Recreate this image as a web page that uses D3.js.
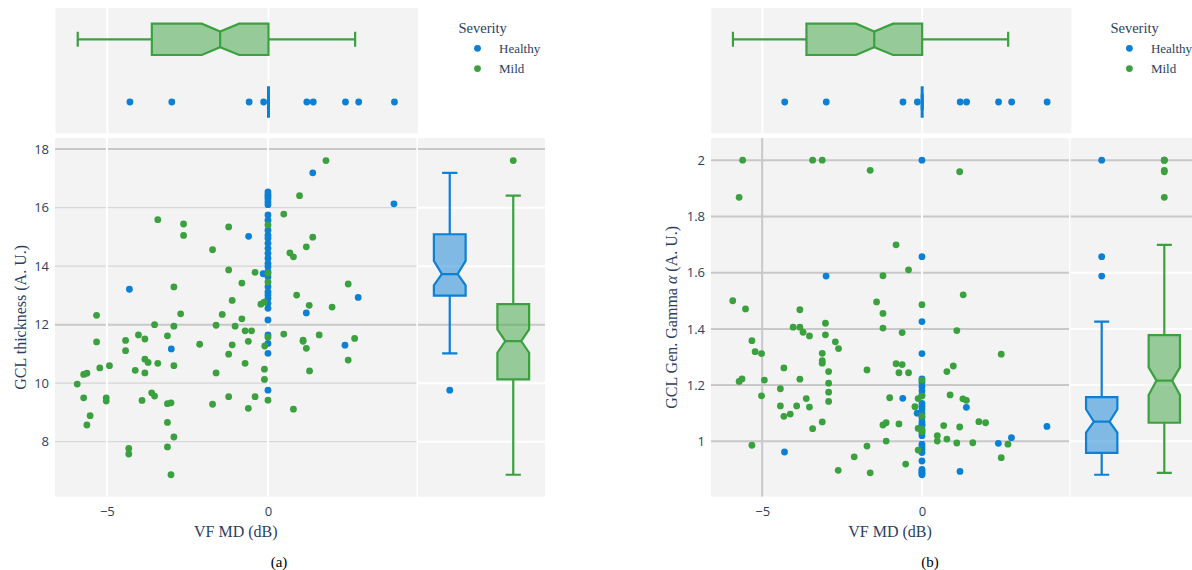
<!DOCTYPE html>
<html>
<head>
<meta charset="utf-8">
<script src="https://cdn.jsdelivr.net/npm/d3@7"></script>
<style>
  html, body { margin: 0; padding: 0; background: #ffffff; }
  svg { display: block; }
</style>
</head>
<body>
<svg id="fig" width="1192" height="570"></svg>
<script>
// ---------------------------------------------------------------
// Data
// ---------------------------------------------------------------
const severities = ["Healthy", "Mild"];

// VF mean deviation (dB) of the healthy group, shared by both panels
const healthyMD = [-4.3, -3.0, -0.6, -0.15, 1.19, 1.39, 2.39, 2.8, 3.91,
  0, 0, 0, 0, 0, 0, 0, 0, 0, 0, 0, 0, 0, 0, 0,
  0, 0, 0, 0, 0, 0, 0, 0, 0, 0, 0, 0, 0, 0, 0];

// GCL thickness of the healthy group (same order as healthyMD)
const healthyGCL = [13.21, 11.17, 15.02, 13.74, 12.40, 17.19, 11.30, 12.93, 16.13,
  16.54, 16.45, 16.38, 16.30, 16.20, 16.10, 15.75, 15.57, 15.23, 15.06,
  14.95, 14.78, 14.61, 14.44, 14.27, 14.09, 13.98, 13.81, 13.64, 13.30,
  13.12, 13.01, 12.90, 12.73, 12.56, 12.16, 11.65, 11.36, 11.02, 9.76];

// GCL generalised-gamma alpha of the healthy group (same order as healthyMD)
const healthyGamma = [0.962, 1.588, 1.153, 1.10, 0.893, 1.121, 0.993, 1.013, 1.053,
  2.0, 1.657, 1.426, 1.312, 1.222, 1.21, 1.195, 1.18, 1.165, 1.135,
  1.125, 1.115, 1.10, 1.085, 1.07, 1.06, 1.055, 1.04, 1.03, 1.02,
  0.99, 0.98, 0.97, 0.96, 0.93, 0.90, 0.895, 0.89, 0.885, 0.881];

// Mild group, panel (a): VF MD and GCL thickness
const mildMDThickness = [1.80, 0.98, 0.49, -3.42, -2.62, -2.62, -1.22, 0, 1.39, 1.19,
  0.68, 0.79, -1.72, -1.22, -0.40, 0, 0, -2.92, -0.81, 2.49,
  0.89, -1.11, -0.22, -0.12, 1.28, 1.99, -5.32, -2.71, -1.42, -0.81,
  -3.52, -2.92, -1.61, -1.02, -0.71, -0.51, -4.02, -3.12, -3.82, -4.42,
  -5.32, -2.12, -1.11, -0.61, -0.1, 0, 0.49, 1.09, 1.09, 1.19,
  1.59, 2.69, 2.49, 1.29, -4.42, -1.22, -3.82, -3.72, -3.42, -4.92,
  -2.92, -0.71, -0.11, -0.11, -5.22, -4.12, -3.82, -1.61, -5.62, -5.72,
  -5.92, -5.72, -5.02, -5.02, -3.91, -3.61, -3.52, -3.12, -3.01, -1.72,
  -1.22, -0.40, -0.61, 0, 0.79, -5.52, -5.62, -3.12, -2.92, -3.12,
  -4.32, -4.32, -3.01];
const mildGCL = [17.61, 16.41, 15.78, 15.59, 15.44, 15.05, 15.34, 15.41, 14.99, 14.66,
  14.45, 14.32, 14.56, 13.87, 13.79, 13.76, 13.46, 13.29, 13.42, 13.39,
  13.01, 12.83, 12.70, 12.77, 12.66, 12.60, 12.32, 12.37, 12.35, 12.20,
  12.00, 11.95, 11.98, 11.95, 11.79, 11.79, 11.65, 11.62, 11.51, 11.46,
  11.41, 11.33, 11.31, 11.43, 11.27, 11.57, 11.68, 11.47, 11.43, 11.19,
  11.65, 11.53, 10.79, 10.42, 11.11, 10.99, 10.82, 10.71, 10.68, 10.60,
  10.60, 10.68, 10.48, 10.13, 10.52, 10.44, 10.35, 10.35, 10.34, 10.30,
  9.97, 9.50, 9.50, 9.39, 9.41, 9.67, 9.56, 9.30, 9.33, 9.28,
  9.54, 9.54, 9.14, 9.42, 9.11, 8.89, 8.57, 8.66, 8.16, 7.82,
  7.77, 7.58, 6.87];

// Mild group, panel (b): VF MD and GCL gamma alpha
const mildMDGamma = [-5.61, -5.72, -3.42, -3.12, -1.62, 1.18, -0.81, -1.22, -0.42, 1.29,
  -5.92, -5.52, -3.82, -1.42, -1.22, 0, -4.03, -3.82, -3.72, -3.52,
  -3.02, -3.02, -2.71, -2.61, -3.12, -3.12, -3.12, -2.92, -2.92, -2.92,
  -2.92, -3.12, -1.22, -0.62, 1.09, 2.48, -5.32, -5.22, -5.02, -5.72,
  -5.63, -4.93, -5.02, -4.32, -4.43, -3.82, -4.43, -4.32, -4.12, -3.92,
  -3.62, -3.52, -3.42, -5.32, -2.62, -2.12, -1.72, -1.62, -1.72, -1.01,
  -1.22, -1.12, -1.12, -0.81, -0.62, -0.72, -0.42, -0.72, -0.22, -0.12,
  -0.12, -0.12, -0.51, 0, 0, 0, 0, 0, 0.48, 0.48,
  0.68, 0.78, 0.98, 0.88, 0.78, 1.09, 1.18, 1.28, 1.39, 1.59,
  1.78, 1.99, 2.48, 2.69];
const mildGamma = [2.0, 1.868, 2.0, 2.0, 1.964, 1.959, 1.699, 1.589, 1.610, 1.521,
  1.500, 1.471, 1.468, 1.496, 1.455, 1.486, 1.406, 1.406, 1.388, 1.375,
  1.420, 1.379, 1.354, 1.330, 1.313, 1.287, 1.278, 1.248, 1.207, 1.175,
  1.142, 1.069, 1.403, 1.387, 1.394, 1.310, 1.358, 1.319, 1.312, 1.213,
  1.222, 1.218, 1.162, 1.261, 1.187, 1.221, 1.126, 1.089, 1.097, 1.126,
  1.152, 1.122, 1.045, 0.986, 0.897, 0.945, 0.983, 0.888, 1.254, 1.155,
  1.058, 1.066, 1.001, 1.276, 1.273, 1.244, 1.244, 1.062, 1.123, 1.152,
  1.046, 0.969, 0.919, 1.218, 1.161, 1.090, 1.043, 1.034, 1.020, 1.001,
  1.056, 1.248, 1.268, 1.165, 1.008, 0.994, 1.051, 1.151, 1.146, 0.995,
  1.070, 1.066, 0.942, 0.990];

// Notched box summaries: [lower fence, q1, median, q3, upper fence, notch low, notch high]
const mdBoxHealthy   = [0, 0, 0, 0, 0, 0, 0];
const mdBoxMild      = [-5.92, -3.62, -1.50, 0, 2.69, -2.07, -0.91];
const gclBoxHealthy  = [11.02, 12.99, 13.73, 15.09, 17.19, 13.34, 14.18];
const gclBoxMild     = [6.87, 10.13, 11.44, 12.70, 16.41, 11.04, 11.84];
const gammaBoxHealthy = [0.881, 0.959, 1.070, 1.157, 1.426, 1.031, 1.114];
const gammaBoxMild    = [0.888, 1.066, 1.216, 1.378, 1.699, 1.165, 1.263];

// Tick values
const mdTicks = [-5, 0];
const gclTicks = [8, 10, 12, 14, 16, 18];
const gammaTicks = [1, 1.2, 1.4, 1.6, 1.8, 2];

// ---------------------------------------------------------------
// Styling
// ---------------------------------------------------------------
const color = { Healthy: "#0b80d5", Mild: "#3ba13f" };
const plotBg = "#f3f3f3";
const textCol = "#2a3f5f";
const tickFont = "'Open Sans', 'Noto Sans', sans-serif";
const serif = "'Liberation Serif', 'DejaVu Serif', serif";

const svg = d3.select("#fig");

function fmtTick(v) {
  return d3.format("~g")(v).replace("-", "\u2212");
}

// Draw one notched box. vScale maps values, pos is the band centre,
// half is half the box thickness, horizontal = value axis along x.
function notchedBox(g, s, vScale, pos, half, horizontal, col) {
  const [lo, q1, med, q3, hi, nlo, nhi] = s.map(vScale);
  const pt = (p, v) => horizontal ? [v, p] : [p, v];
  const ind = half * 0.5;
  const degenerate = q1 === q3;
  const sw = degenerate ? 3 : 2.2;
  const pts = [
    pt(pos - half, q1), pt(pos - half, nlo), pt(pos - half + ind, med),
    pt(pos - half, nhi), pt(pos - half, q3), pt(pos + half, q3),
    pt(pos + half, nhi), pt(pos + half - ind, med), pt(pos + half, nlo),
    pt(pos + half, q1)
  ];
  const line = d3.line();
  g.append("path")
    .attr("d", line(pts) + "Z")
    .attr("fill", col).attr("fill-opacity", 0.5)
    .attr("stroke", col).attr("stroke-width", sw)
    .attr("stroke-linejoin", "miter");
  g.append("path")
    .attr("d", line([pt(pos - half + ind, med), pt(pos + half - ind, med)]))
    .attr("stroke", col).attr("stroke-width", sw);
  const cap = half * 0.48;
  [[q1, lo], [q3, hi]].forEach(([a, b]) => {
    g.append("path").attr("d", line([pt(pos, a), pt(pos, b)]))
      .attr("stroke", col).attr("stroke-width", 2.2);
    g.append("path").attr("d", line([pt(pos - cap, b), pt(pos + cap, b)]))
      .attr("stroke", col).attr("stroke-width", 2.2);
  });
}

function drawPanel(cfg) {
  const g = svg.append("g");
  const M = cfg.main, T = cfg.top, R = cfg.right;

  const x = d3.scaleLinear().domain(cfg.xDomain).range([M.x0, M.x1]);
  const xTop = d3.scaleLinear().domain(cfg.xDomain).range([T.x0, T.x0 + (M.x1 - M.x0)]);
  const y = d3.scaleLinear().domain(cfg.yDomain).range([M.y1, M.y0]);
  const bandTop = d3.scaleBand().domain(["Mild", "Healthy"]).range([T.y0, T.y1]);
  const bandRight = d3.scaleBand().domain(severities).range([R.x0, R.x1]);

  // clip paths for each sub-plot
  const clipId = (n) => cfg.id + "-" + n;
  const defs = g.append("defs");
  [["main", M], ["top", T], ["right", R]].forEach(([n, r]) => {
    defs.append("clipPath").attr("id", clipId(n))
      .append("rect").attr("x", r.x0).attr("y", r.y0)
      .attr("width", r.x1 - r.x0).attr("height", r.y1 - r.y0);
  });

  // backgrounds
  [M, T, R].forEach(r => {
    g.append("rect").attr("x", r.x0).attr("y", r.y0)
      .attr("width", r.x1 - r.x0).attr("height", r.y1 - r.y0)
      .attr("fill", plotBg);
  });

  // ---- top marginal (horizontal boxes of VF MD)
  const gt = g.append("g").attr("clip-path", `url(#${clipId("top")})`);
  mdTicks.forEach(t => {
    gt.append("line").attr("x1", xTop(t)).attr("x2", xTop(t))
      .attr("y1", T.y0).attr("y2", T.y1)
      .attr("stroke", "#ffffff").attr("stroke-width", 2);
  });
  const hTop = bandTop.bandwidth() * 0.25;
  notchedBox(gt, cfg.mdBoxes.Mild, xTop, bandTop("Mild") + bandTop.bandwidth() / 2, hTop, true, color.Mild);
  notchedBox(gt, cfg.mdBoxes.Healthy, xTop, bandTop("Healthy") + bandTop.bandwidth() / 2, hTop, true, color.Healthy);
  severities.forEach(s => {
    const b = cfg.mdBoxes[s];
    const cy = bandTop(s) + bandTop.bandwidth() / 2;
    gt.selectAll(null).data(cfg.md[s].filter(v => v < b[0] || v > b[4]))
      .enter().append("circle")
      .attr("cx", d => xTop(d)).attr("cy", cy).attr("r", 3.4)
      .attr("fill", color[s]);
  });

  // ---- main scatter
  const gm = g.append("g").attr("clip-path", `url(#${clipId("main")})`);
  cfg.yTicks.forEach(t => {
    const st = cfg.mainGrid(t);
    gm.append("line").attr("x1", M.x0).attr("x2", M.x1)
      .attr("y1", y(t)).attr("y2", y(t))
      .attr("stroke", st.c).attr("stroke-width", st.w);
  });
  mdTicks.forEach(t => {
    const st = cfg.mainVGrid(t);
    gm.append("line").attr("x1", x(t)).attr("x2", x(t))
      .attr("y1", M.y0).attr("y2", M.y1)
      .attr("stroke", st.c).attr("stroke-width", st.w);
  });
  severities.forEach(s => {
    const pts = d3.zip(cfg.md[s], cfg.val[s]);
    gm.selectAll(null).data(pts).enter().append("circle")
      .attr("cx", d => x(d[0])).attr("cy", d => y(d[1])).attr("r", 3.4)
      .attr("fill", color[s]);
  });

  // ---- right marginal (vertical boxes of the y variable)
  const gr = g.append("g").attr("clip-path", `url(#${clipId("right")})`);
  cfg.yTicks.forEach(t => {
    const st = cfg.rightGrid(t);
    gr.append("line").attr("x1", R.x0).attr("x2", R.x1)
      .attr("y1", y(t)).attr("y2", y(t))
      .attr("stroke", st.c).attr("stroke-width", st.w);
  });
  const hR = bandRight.bandwidth() * 0.25;
  severities.forEach(s => {
    const cx = bandRight(s) + bandRight.bandwidth() / 2;
    const b = cfg.valBoxes[s];
    notchedBox(gr, b, y, cx, hR, false, color[s]);
    gr.selectAll(null).data(cfg.val[s].filter(v => v < b[0] || v > b[4]))
      .enter().append("circle")
      .attr("cx", cx).attr("cy", d => y(d)).attr("r", 3.4)
      .attr("fill", color[s]);
  });

  // ---- axes
  const xAxis = d3.axisBottom(x).tickValues(mdTicks).tickSize(0).tickFormat(fmtTick);
  const ax = g.append("g").attr("transform", `translate(0,${M.y1 + 4})`).call(xAxis);
  const yAxis = d3.axisLeft(y).tickValues(cfg.yTicks).tickSize(0).tickFormat(fmtTick);
  const ay = g.append("g").attr("transform", `translate(${M.x0 - 3},0)`).call(yAxis);
  [ax, ay].forEach(a => {
    a.select(".domain").remove();
    a.selectAll("text").attr("fill", textCol)
      .style("font-family", tickFont).style("font-size", "13px");
  });
  ax.selectAll("text").attr("dy", "0.95em");

  // axis titles
  g.append("text")
    .attr("x", (M.x0 + M.x1) / 2).attr("y", 537)
    .attr("text-anchor", "middle").attr("fill", textCol)
    .style("font-family", serif).style("font-size", "16px")
    .text("VF MD (dB)");
  const yt = g.append("text")
    .attr("transform", `translate(${cfg.yTitleX},${(M.y0 + M.y1) / 2}) rotate(-90)`)
    .attr("text-anchor", "middle").attr("dy", "0.35em").attr("fill", textCol)
    .style("font-family", serif).style("font-size", "16px");
  cfg.yTitle(yt);

  // legend
  const L = cfg.legend;
  g.append("text").attr("x", L.x).attr("y", L.y).attr("dy", "0.35em")
    .attr("fill", textCol).style("font-family", serif).style("font-size", "14.5px")
    .text("Severity");
  severities.forEach((s, i) => {
    const yy = L.y + 20.3 * (i + 1);
    g.append("circle").attr("cx", L.x + 19).attr("cy", yy).attr("r", 3.4).attr("fill", color[s]);
    g.append("text").attr("x", L.x + 40.5).attr("y", yy).attr("dy", "0.35em")
      .attr("fill", textCol).style("font-family", serif).style("font-size", "13px")
      .text(s);
  });

  // caption
  g.append("text").attr("x", cfg.captionX).attr("y", 562).attr("dy", "0.35em")
    .attr("text-anchor", "middle").attr("fill", "#000000")
    .style("font-family", serif).style("font-size", "15px")
    .text(cfg.caption);
}

const gridGray = { c: "#c8c8c8", w: 2 };
const gridLight = { c: "#d6d6d6", w: 1.2 };
const gridWhite = { c: "#ffffff", w: 2 };

drawPanel({
  id: "pa",
  main: { x0: 55, x1: 416.5, y0: 138, y1: 496.7 },
  top: { x0: 55.5, x1: 418, y0: 8, y1: 133.3 },
  right: { x0: 418, x1: 545, y0: 138, y1: 496.7 },
  xDomain: [-6.61, 4.61],
  yDomain: [6.12, 18.38],
  yTicks: gclTicks,
  md: { Healthy: healthyMD, Mild: mildMDThickness },
  val: { Healthy: healthyGCL, Mild: mildGCL },
  mdBoxes: { Healthy: mdBoxHealthy, Mild: mdBoxMild },
  valBoxes: { Healthy: gclBoxHealthy, Mild: gclBoxMild },
  mainGrid: t => (t === 18 || t === 12) ? gridGray : gridLight,
  mainVGrid: () => gridWhite,
  rightGrid: t => (t === 18 || t === 12) ? gridGray : gridWhite,
  yTitleX: 20,
  yTitle: sel => sel.text("GCL thickness (A. U.)"),
  legend: { x: 458.5, y: 28 },
  caption: "(a)",
  captionX: 279
});

drawPanel({
  id: "pb",
  main: { x0: 711, x1: 1069, y0: 138, y1: 496.7 },
  top: { x0: 711.2, x1: 1071.4, y0: 8, y1: 133.3 },
  right: { x0: 1070.4, x1: 1195.6, y0: 138, y1: 496.7 },
  xDomain: [-6.6, 4.6],
  yDomain: [0.803, 2.079],
  yTicks: gammaTicks,
  md: { Healthy: healthyMD, Mild: mildMDGamma },
  val: { Healthy: healthyGamma, Mild: mildGamma },
  mdBoxes: { Healthy: mdBoxHealthy, Mild: mdBoxMild },
  valBoxes: { Healthy: gammaBoxHealthy, Mild: gammaBoxMild },
  mainGrid: () => gridGray,
  mainVGrid: t => t === -5 ? gridGray : gridWhite,
  rightGrid: t => (t === 2 || t === 1.8) ? gridGray : gridWhite,
  yTitleX: 671,
  yTitle: sel => {
    sel.append("tspan").text("GCL Gen. Gamma ");
    sel.append("tspan").style("font-style", "italic").text("\u03b1");
    sel.append("tspan").text(" (A. U.)");
  },
  legend: { x: 1110.4, y: 28 },
  caption: "(b)",
  captionX: 930
});
</script>
</body>
</html>
